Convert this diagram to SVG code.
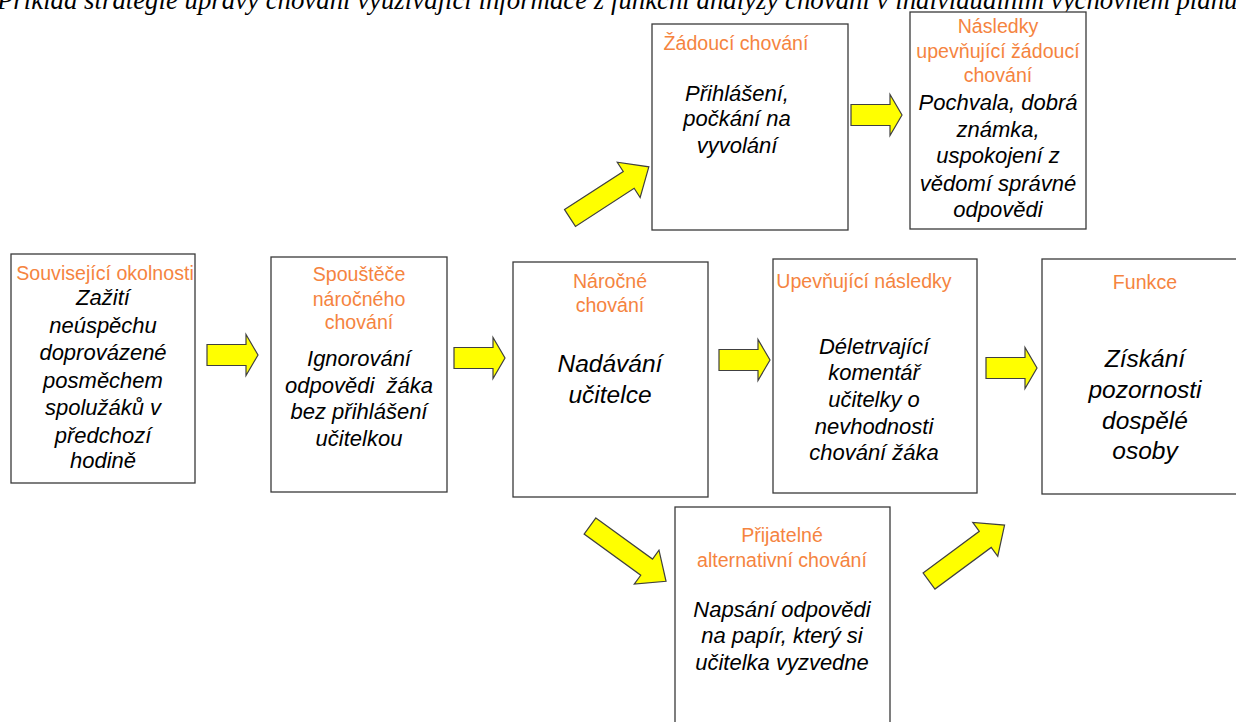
<svg xmlns="http://www.w3.org/2000/svg" width="1236" height="722" viewBox="0 0 1236 722">
<style>
.box{fill:#fff;stroke:#3a3a3a;stroke-width:1.3}
.t{font-family:"Liberation Sans",Arial,sans-serif;font-size:19.6px;fill:#F5843F;text-anchor:middle}
.b{font-family:"Liberation Sans",Arial,sans-serif;font-size:22px;font-style:italic;fill:#000;text-anchor:middle}
.bl{font-family:"Liberation Sans",Arial,sans-serif;font-size:24.5px;font-style:italic;fill:#000;text-anchor:middle}
.arr{fill:#FFFF00;stroke:#404040;stroke-width:1.2;stroke-linejoin:miter}
.cap{font-family:"Liberation Serif","Times New Roman",serif;font-size:26.8px;font-style:italic;fill:#000}
</style>
<defs>
<path id="ha" class="arr" d="M0,-10.5 L39,-10.5 L39,-20.5 L51,0 L39,20.5 L39,10.5 L0,10.5 Z"/>
<path id="da" class="arr" d="M0,-10 L70,-10 L70,-21 L94,0 L70,21 L70,10 L0,10 Z"/>
</defs>
<text class="cap" x="-3" y="9">Příklad strategie úpravy chování využívající informace z funkční analýzy chování v individuálním výchovném plánu</text>

<g id="connectors">
<use href="#ha" x="207" y="355"/>
<use href="#ha" x="454" y="358"/>
<use href="#ha" x="719" y="360"/>
<use href="#ha" x="986" y="368"/>
<use href="#ha" x="851" y="115"/>
<use href="#da" transform="translate(570,218) rotate(-33)"/>
<use href="#da" transform="translate(590,526) rotate(36)"/>
<use href="#da" transform="translate(929,581) rotate(-36.5)"/>
</g>

<g id="n-okolnosti">
<rect class="box" x="11" y="254" width="184" height="229"/>
<text class="t" x="105" y="280">Související okolnosti</text>
<text class="b" x="103" y="305">Zažití</text>
<text class="b" x="103" y="333">neúspěchu</text>
<text class="b" x="103" y="360">doprovázené</text>
<text class="b" x="103" y="388">posměchem</text>
<text class="b" x="103" y="415">spolužáků v</text>
<text class="b" x="103" y="443">předchozí</text>
<text class="b" x="103" y="468">hodině</text>
</g>

<g id="n-spoustece">
<rect class="box" x="271" y="257" width="176" height="235"/>
<text class="t" x="359" y="281">Spouštěče</text>
<text class="t" x="359" y="306">náročného</text>
<text class="t" x="359" y="329">chování</text>
<text class="b" x="359" y="366">Ignorování</text>
<text class="b" x="359" y="393" style="white-space:pre">odpovědi  žáka</text>
<text class="b" x="359" y="419">bez přihlášení</text>
<text class="b" x="359" y="446">učitelkou</text>
</g>

<g id="n-narocne">
<rect class="box" x="513" y="262" width="195" height="235"/>
<text class="t" x="610" y="288">Náročné</text>
<text class="t" x="610" y="312">chování</text>
<text class="bl" x="610" y="372">Nadávání</text>
<text class="bl" x="610" y="403">učitelce</text>
</g>

<g id="n-upevnujici">
<rect class="box" x="773" y="259" width="204" height="234"/>
<text class="t" x="864" y="288">Upevňující následky</text>
<text class="b" x="874" y="354">Déletrvající</text>
<text class="b" x="874" y="380">komentář</text>
<text class="b" x="874" y="407">učitelky o</text>
<text class="b" x="874" y="434">nevhodnosti</text>
<text class="b" x="874" y="460">chování žáka</text>
</g>

<g id="n-funkce">
<rect class="box" x="1042" y="259" width="196" height="235"/>
<text class="t" x="1145" y="289">Funkce</text>
<text class="bl" x="1145" y="367">Získání</text>
<text class="bl" x="1145" y="398">pozornosti</text>
<text class="bl" x="1145" y="429">dospělé</text>
<text class="bl" x="1145" y="459">osoby</text>
</g>

<g id="n-zadouci">
<rect class="box" x="652" y="24" width="196" height="206"/>
<text class="t" x="736" y="50">Žádoucí chování</text>
<text class="b" x="737" y="101">Přihlášení,</text>
<text class="b" x="737" y="126">počkání na</text>
<text class="b" x="737" y="153">vyvolání</text>
</g>

<g id="n-nasledky">
<rect class="box" x="910" y="12" width="176" height="217"/>
<text class="t" x="998" y="33">Následky</text>
<text class="t" x="998" y="58">upevňující žádoucí</text>
<text class="t" x="998" y="82">chování</text>
<text class="b" x="998" y="110">Pochvala, dobrá</text>
<text class="b" x="998" y="137">známka,</text>
<text class="b" x="998" y="163">uspokojení z</text>
<text class="b" x="998" y="191">vědomí správné</text>
<text class="b" x="998" y="217">odpovědi</text>
</g>

<g id="n-prijatelne">
<rect class="box" x="675" y="507" width="215" height="230"/>
<text class="t" x="782" y="542">Přijatelné</text>
<text class="t" x="782" y="567">alternativní chování</text>
<text class="b" x="782" y="617">Napsání odpovědi</text>
<text class="b" x="782" y="643">na papír, který si</text>
<text class="b" x="782" y="670">učitelka vyzvedne</text>
</g>
</svg>
